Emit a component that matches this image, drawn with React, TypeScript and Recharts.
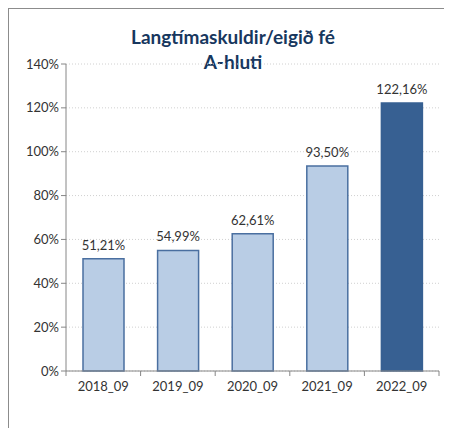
import React from "react";
import { BarChart, Bar, XAxis, YAxis, CartesianGrid, Cell, LabelList } from "recharts";

const categories = ["2018_09", "2019_09", "2020_09", "2021_09", "2022_09"];
const ratios = [51.21, 54.99, 62.61, 93.5, 122.16];
const yTicks = [0, 20, 40, 60, 80, 100, 120, 140];

const data = categories.map((name, i) => ({ name, value: ratios[i] }));

const W = 444;
const H = 420;
const MARGIN = { top: 56, right: 13, left: 0, bottom: 27 };
const Y_WIDTH = 58;
const BAND = (W - MARGIN.left - MARGIN.right - Y_WIDTH) / categories.length;

const FONT = "Lato, 'Liberation Sans', sans-serif";

const fmtPct = (v: number) => v.toFixed(2).replace(".", ",") + "%";

const XTick = (props: any) => {
  const { x, y, payload, index } = props;
  const last = index === categories.length - 1;
  return (
    <g>
      <line x1={x - BAND / 2} x2={x - BAND / 2} y1={y - 8} y2={y - 3} stroke="#868686" />
      {last && <line x1={x + BAND / 2} x2={x + BAND / 2} y1={y - 8} y2={y - 3} stroke="#868686" />}
      <text x={x} y={y + 12} textAnchor="middle" fontSize={13} fill="#333" fontFamily={FONT}>
        {payload.value}
      </text>
    </g>
  );
};

export default function App() {
  return (
    <div
      style={{
        position: "relative",
        width: W,
        height: H,
        borderTop: "1px solid #8c8c8c",
        borderLeft: "1px solid #8c8c8c",
        boxSizing: "border-box",
        fontFamily: FONT,
      }}
    >
      <div
        style={{
          position: "absolute",
          left: 0,
          top: 15,
          width: 452,
          textAlign: "center",
          color: "#17375e",
          fontWeight: 700,
          fontSize: 19,
          lineHeight: "25px",
          transform: "translateX(-2px)",
        }}
      >
        Langtímaskuldir/eigið fé
        <br />
        A-hluti
      </div>
      <div style={{ position: "absolute", left: -1, top: -1 }}>
        <BarChart width={W} height={H} data={data} margin={MARGIN} barCategoryGap={17}>
          <CartesianGrid vertical={false} stroke="#d0d0d0" strokeDasharray="1 2" />
          <XAxis
            dataKey="name"
            axisLine={{ stroke: "#868686" }}
            tickLine={false}
            tick={<XTick />}
            height={30}
            interval={0}
          />
          <YAxis
            width={Y_WIDTH}
            domain={[0, 140]}
            ticks={yTicks}
            tickFormatter={(v) => `${v}%`}
            axisLine={{ stroke: "#868686" }}
            tickLine={{ stroke: "#868686" }}
            tickSize={5}
            tick={{ fontSize: 13, fill: "#333", fontFamily: FONT }}
          />
          <Bar dataKey="value" isAnimationActive={false} strokeWidth={1.5}>
            {data.map((d, i) => (
              <Cell
                key={d.name}
                fill={i === data.length - 1 ? "#376092" : "#b9cde5"}
                stroke={i === data.length - 1 ? "#376092" : "#4a6fa0"}
              />
            ))}
            <LabelList
              dataKey="value"
              position="top"
              offset={9}
              formatter={(v: any) => fmtPct(Number(v))}
              style={{ fontSize: 13, fill: "#333", fontFamily: FONT }}
            />
          </Bar>
        </BarChart>
      </div>
    </div>
  );
}
